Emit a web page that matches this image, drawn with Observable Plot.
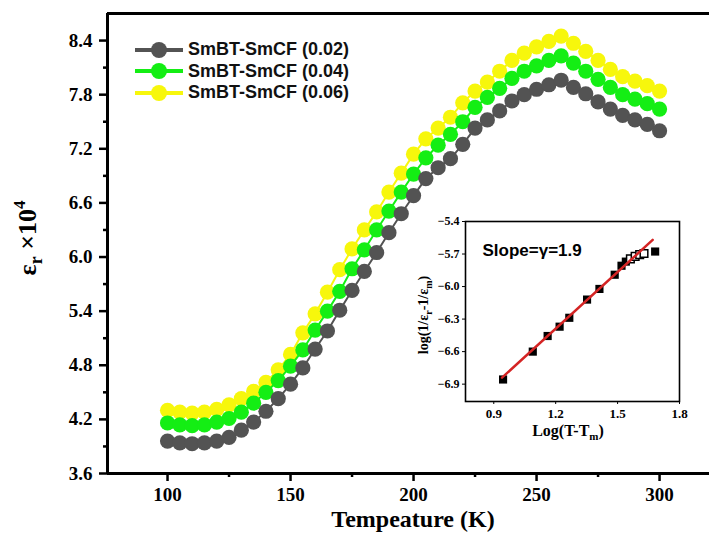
<!DOCTYPE html>
<html>
<head>
<meta charset="utf-8">
<script src="https://cdn.jsdelivr.net/npm/d3@7"></script>
<script src="https://cdn.jsdelivr.net/npm/@observablehq/plot@0.6"></script>
<style>
  html, body { margin: 0; padding: 0; background: #fff; }
  #wrap { position: relative; width: 709px; height: 533px; overflow: hidden; }
  #inset { position: absolute; left: 400px; top: 205px; }
  #legend { position: absolute; left: 130px; top: 39px; font-family: "Liberation Sans", Arial, sans-serif; font-weight: bold; font-size: 18px; color: #111; }
  .row { display: flex; align-items: center; height: 21.5px; }
  .row svg { margin-right: 4px; }
</style>
</head>
<body>
<div id="wrap"></div>
<script>
// ---------- main chart data ----------
const temps = [100,105,110,115,120,125,130,135,140,145,150,155,160,165,170,175,180,185,190,195,200,
               205,210,215,220,225,230,235,240,245,250,255,260,265,270,275,280,285,290,295,300];
const gray002 = [3.96,3.94,3.93,3.94,3.96,4.00,4.08,4.17,4.29,4.43,4.59,4.77,4.98,5.18,5.41,5.63,5.84,6.05,6.27,6.48,6.68,
                 6.87,6.99,7.09,7.25,7.43,7.52,7.62,7.73,7.80,7.86,7.91,7.96,7.88,7.81,7.72,7.64,7.57,7.52,7.47,7.40];
const green004 = [4.16,4.14,4.13,4.14,4.17,4.21,4.28,4.38,4.50,4.63,4.79,4.97,5.19,5.40,5.62,5.87,6.08,6.30,6.51,6.72,6.92,
                  7.10,7.24,7.36,7.50,7.66,7.77,7.87,7.98,8.06,8.12,8.18,8.23,8.15,8.06,7.97,7.88,7.80,7.75,7.70,7.64];
const yellow006 = [4.30,4.28,4.27,4.28,4.31,4.36,4.43,4.51,4.61,4.75,4.92,5.16,5.37,5.61,5.86,6.09,6.30,6.50,6.72,6.93,7.14,
                   7.31,7.43,7.55,7.71,7.84,7.94,8.06,8.18,8.26,8.33,8.39,8.45,8.37,8.28,8.18,8.08,8.00,7.95,7.90,7.84];
const seriesNames = ["SmBT-SmCF (0.02)", "SmBT-SmCF (0.04)", "SmBT-SmCF (0.06)"];
const seriesColors = ["#535353", "#14ee14", "#f7f70c"];
const xTicks = [100,150,200,250,300];
const xMinor = [125,175,225,275];
const yTicks = [3.6,4.2,4.8,5.4,6.0,6.6,7.2,7.8,8.4];
const yMinor = [3.9,4.5,5.1,5.7,6.3,6.9,7.5,8.1];

// ---------- inset data ----------
const logDT = [0.945,1.089,1.161,1.219,1.266,1.352,1.412,1.486,1.519,1.540];
const logEps = [-6.857,-6.600,-6.456,-6.370,-6.288,-6.120,-6.022,-5.891,-5.808,-5.770];
const logDTOpen = [1.562,1.585,1.607,1.628];
const logEpsOpen = [-5.745,-5.722,-5.705,-5.695];
const logDTEnd = [1.682];
const logEpsEnd = [-5.677];
const fitX = [0.94, 1.67];
const fitY = [-6.84, -5.57];
const insetXTicks = [0.9,1.2,1.5,1.8];
const insetYTicks = [-6.9,-6.6,-6.3,-6.0,-5.7,-5.4];

// build tables
const seriesValues = [gray002, green004, yellow006];
const table = seriesValues.map((vals, i) => temps.map((t, j) => ({T: t, v: vals[j], s: seriesNames[i]})));

const serif = "'Liberation Serif', 'Times New Roman', serif";
const sans = "'Liberation Sans', Arial, sans-serif";

// draw order: yellow (bottom), green, gray (top)
const order = [2, 1, 0];
const dataMarks = [];
for (const i of order) {
  dataMarks.push(Plot.line(table[i], {x: "T", y: "v", stroke: seriesColors[i], strokeWidth: 2}));
  dataMarks.push(Plot.dot(table[i], {x: "T", y: "v", r: 7.6, fill: seriesColors[i], stroke: "none"}));
}

const xMin = 75.6, xMax = 320.3, yMin = 3.6, yMax = 8.7;

const main = Plot.plot({
  width: 709,
  height: 533,
  marginLeft: 107,
  marginRight: 0,
  marginTop: 13,
  marginBottom: 60,
  style: {fontFamily: serif, fontSize: "19px", fontWeight: "bold", background: "transparent", overflow: "visible"},
  x: {domain: [xMin, xMax], axis: null},
  y: {domain: [yMin, yMax], axis: null},
  marks: [
    ...dataMarks,
    Plot.axisX(xTicks, {tickSize: 8, tickPadding: 6, strokeWidth: 2.5, fontSize: 19, fontWeight: "bold", fontFamily: serif, label: null, tickFormat: d => String(d), anchor: "bottom"}),
    Plot.axisX(xMinor, {tickSize: 4, strokeWidth: 2.5, tickFormat: () => "", label: null, anchor: "bottom"}),
    Plot.axisY(yTicks, {tickSize: 8, tickPadding: 7, strokeWidth: 2.5, fontSize: 19, fontWeight: "bold", fontFamily: serif, label: null, tickFormat: d => d.toFixed(1), anchor: "left"}),
    Plot.axisY(yMinor, {tickSize: 4, strokeWidth: 2.5, tickFormat: () => "", label: null, anchor: "left"}),
    Plot.ruleX([xMin], {strokeWidth: 3, stroke: "#000"}),
    Plot.ruleY([yMin], {strokeWidth: 3, stroke: "#000"}),
    Plot.ruleY([yMax], {strokeWidth: 3, stroke: "#000"})
  ]
});

const wrap = document.getElementById("wrap");
wrap.appendChild(main);

// axis titles (with sub/superscripts)
const ms = d3.select(main);
const yt = ms.append("text")
  .attr("transform", "translate(36,238) rotate(-90)")
  .attr("text-anchor", "middle")
  .attr("font-family", serif).attr("font-weight", "bold").attr("font-size", 26).attr("fill", "#000");
yt.append("tspan").text("ε");
yt.append("tspan").attr("font-size", 18).attr("dy", 6).text("r");
yt.append("tspan").attr("dy", -6).text(" ×10");
yt.append("tspan").attr("font-size", 17).attr("dy", -11).text("4");

ms.append("text")
  .attr("x", 413).attr("y", 527)
  .attr("text-anchor", "middle")
  .attr("font-family", serif).attr("font-weight", "bold").attr("font-size", 24).attr("fill", "#000")
  .text("Tempeature (K)");

// ---------- inset ----------
const inset = Plot.plot({
  width: 300,
  height: 240,
  marginLeft: 65,
  marginRight: 21,
  marginTop: 16,
  marginBottom: 44,
  style: {fontFamily: serif, fontSize: "12px", fontWeight: "bold", background: "transparent", overflow: "visible"},
  x: {domain: [0.763, 1.8], axis: null},
  y: {domain: [-7.06, -5.4], axis: null},
  marks: [
    Plot.frame({stroke: "#000", strokeWidth: 1.6}),
    Plot.axisX(insetXTicks, {tickSize: 3, tickPadding: 4, fontSize: 13, fontWeight: "bold", fontFamily: serif, label: null, tickFormat: d => d.toFixed(1), anchor: "bottom"}),
    Plot.axisY(insetYTicks, {tickSize: 3, tickPadding: 3, fontSize: 12, fontWeight: "bold", fontFamily: serif, label: null, tickFormat: d => "\u2212" + Math.abs(d).toFixed(1), anchor: "left"}),
    Plot.dot(logDT.map((x, i) => ({x, y: logEps[i]})), {x: "x", y: "y", symbol: "square", r: 4.6, fill: "#000"}),
    Plot.dot(logDTOpen.map((x, i) => ({x, y: logEpsOpen[i]})), {x: "x", y: "y", symbol: "square", r: 4.3, fill: "#fff", stroke: "#000", strokeWidth: 1.5}),
    Plot.dot(logDTEnd.map((x, i) => ({x, y: logEpsEnd[i]})), {x: "x", y: "y", symbol: "square", r: 4.6, fill: "#000"}),
    Plot.line(fitX.map((x, i) => ({x, y: fitY[i]})), {x: "x", y: "y", stroke: "#d42424", strokeWidth: 2.5}),
    Plot.text(["Slope=\u03b3=1.9"], {frameAnchor: "top-left", dx: 17, dy: 22, textAnchor: "start", fontSize: 17, fontWeight: "bold", fontFamily: sans, fill: "#000"})
  ]
});
inset.id = "inset";
wrap.appendChild(inset);

const is = d3.select(inset);
const iy = is.append("text")
  .attr("transform", "translate(28,110) rotate(-90)")
  .attr("text-anchor", "middle")
  .attr("font-family", serif).attr("font-weight", "bold").attr("font-size", 14).attr("fill", "#000");
iy.append("tspan").text("log(1/ε");
iy.append("tspan").attr("font-size", 10).attr("dy", 4).text("r");
iy.append("tspan").attr("dy", -4).text("-1/ε");
iy.append("tspan").attr("font-size", 10).attr("dy", 4).text("m");
iy.append("tspan").attr("dy", -4).text(")");

const ix = is.append("text")
  .attr("x", 168).attr("y", 231)
  .attr("text-anchor", "middle")
  .attr("font-family", serif).attr("font-weight", "bold").attr("font-size", 16).attr("fill", "#000");
ix.append("tspan").text("Log(T-T");
ix.append("tspan").attr("font-size", 11).attr("dy", 4).text("m");
ix.append("tspan").attr("dy", -4).text(")");

// ---------- legend ----------
const legend = document.createElement("div");
legend.id = "legend";
seriesNames.forEach((name, i) => {
  const row = document.createElement("div");
  row.className = "row";
  const sw = d3.create("svg").attr("width", 54).attr("height", 20);
  sw.append("line").attr("x1", 5).attr("x2", 53).attr("y1", 10).attr("y2", 10).attr("stroke", seriesColors[i]).attr("stroke-width", 4);
  sw.append("circle").attr("cx", 29).attr("cy", 10).attr("r", 8).attr("fill", seriesColors[i]);
  row.appendChild(sw.node());
  const label = document.createElement("span");
  label.textContent = name;
  row.appendChild(label);
  legend.appendChild(row);
});
wrap.appendChild(legend);
</script>
</body>
</html>
